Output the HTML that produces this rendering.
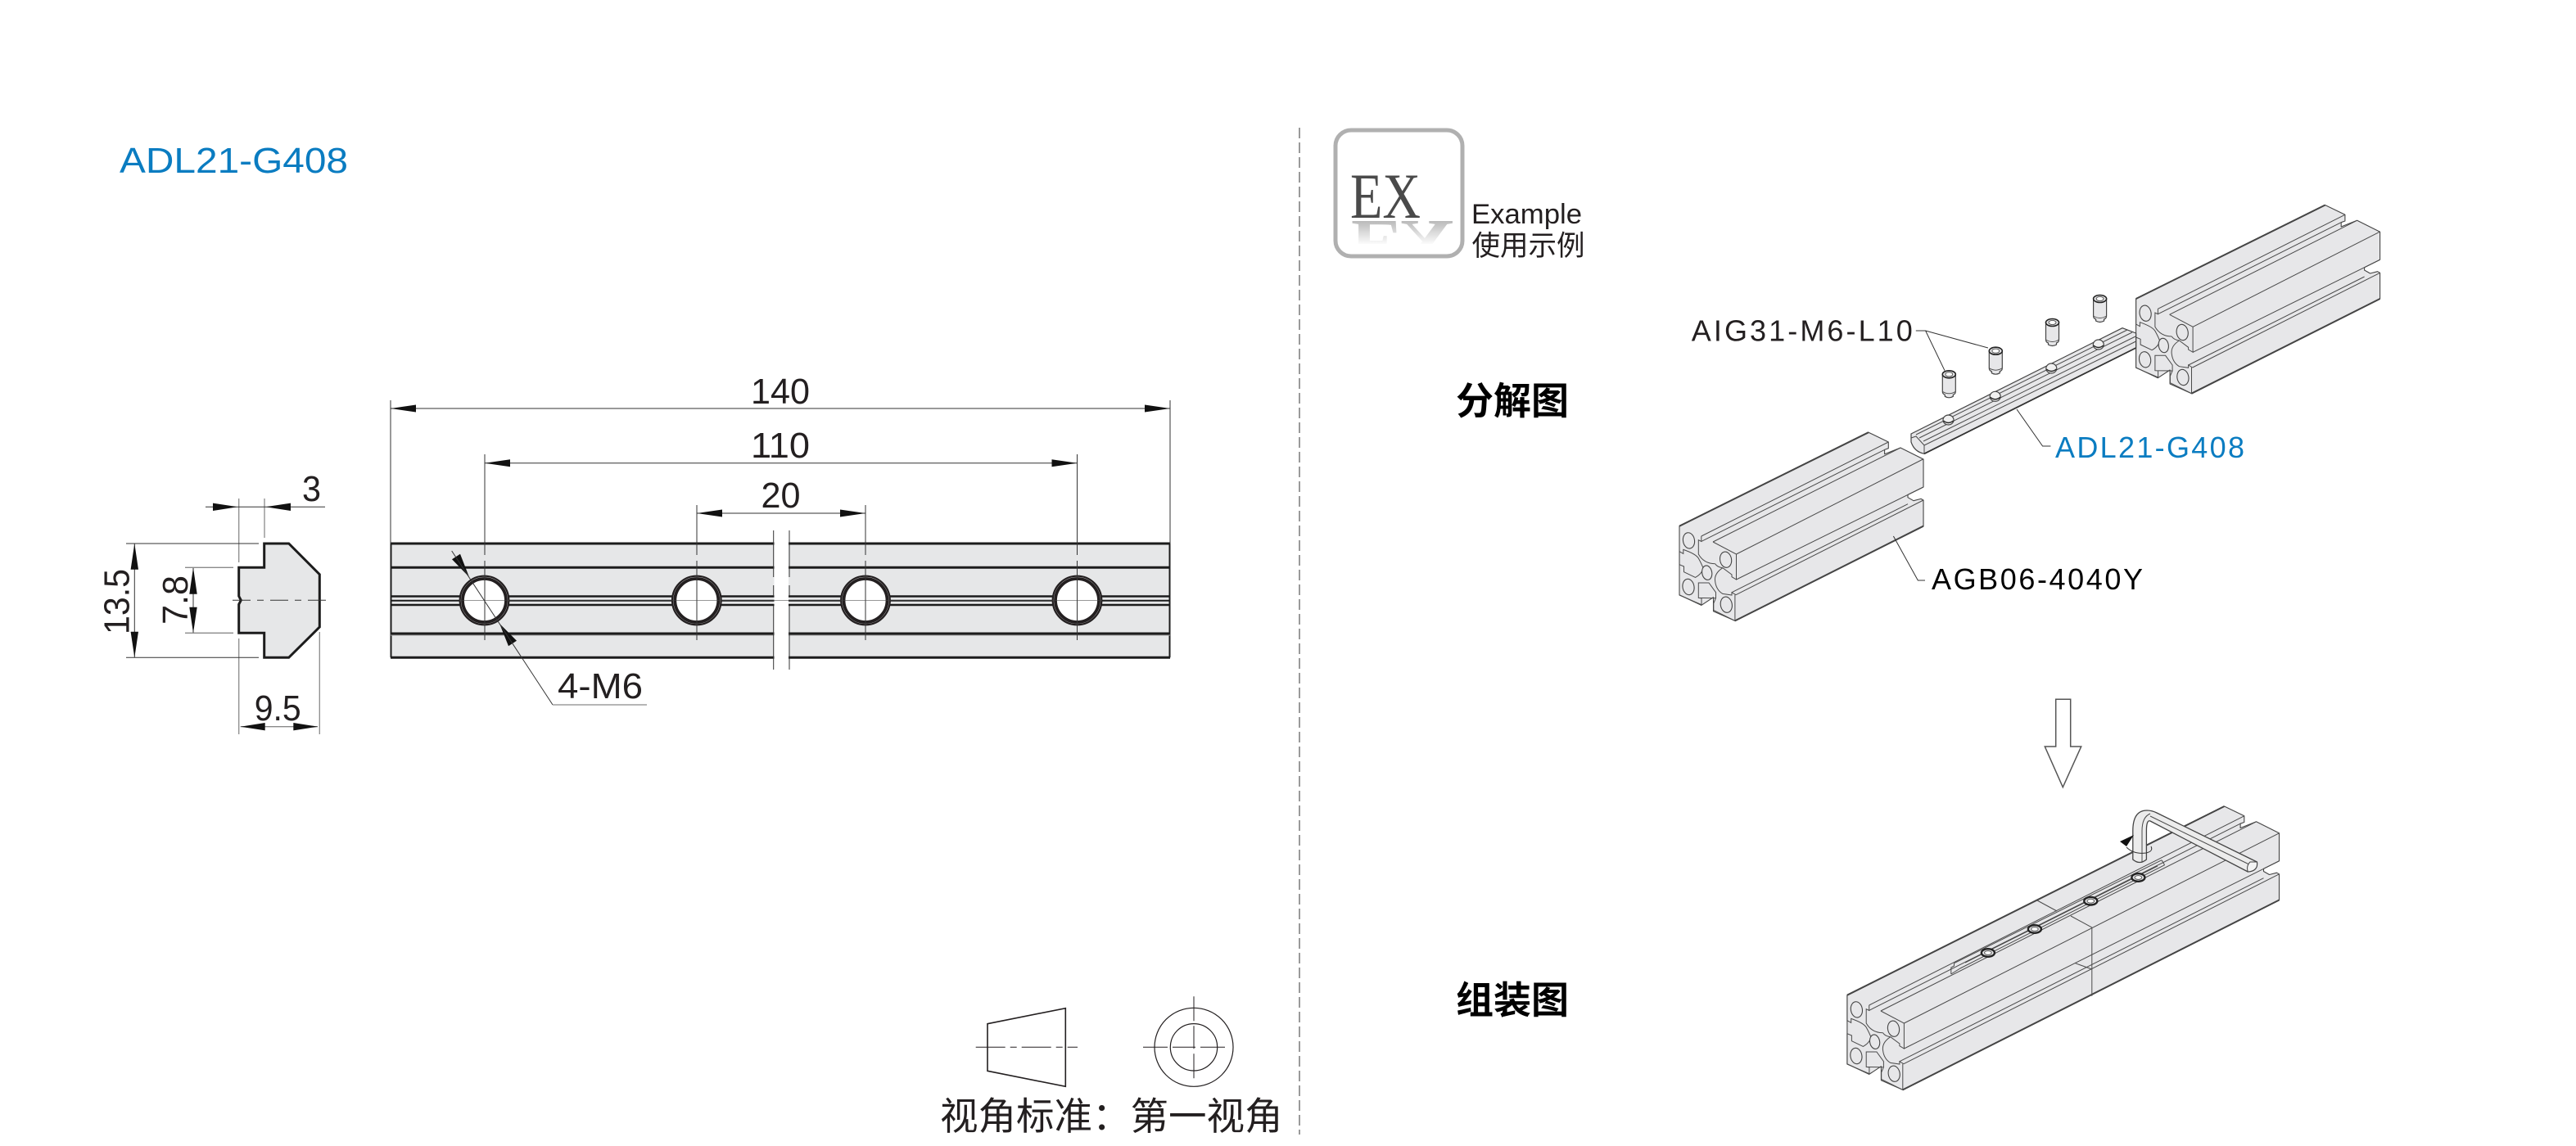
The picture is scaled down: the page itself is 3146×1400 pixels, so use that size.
<!DOCTYPE html>
<html lang="zh-CN"><head><meta charset="utf-8"><title>ADL21-G408</title>
<style>html,body{margin:0;padding:0;background:#fff}svg{display:block}
text{font-family:"Liberation Sans","Noto Sans CJK SC",sans-serif;fill:#231f20}
.cjk{font-family:"Noto Sans CJK SC","Liberation Sans",sans-serif}
.pf{fill:#e7e7e9;stroke:#444;stroke-width:1.1;stroke-linejoin:round}
.pl{fill:none;stroke:#4a4a4a;stroke-width:1}
.thin{fill:none;stroke:#333;stroke-width:1}
.gr{fill:none;stroke:#8a8a8a;stroke-width:1.3}
.ar{fill:#111;stroke:none}
</style></head><body>
<svg width="3146" height="1400" viewBox="0 0 3146 1400" xmlns="http://www.w3.org/2000/svg">
<defs>
<g id="ff">
<path class="pl" d="M0,0V31L4.8,33.7V28.7Q20,34 23.3,39.3Q27,46 28.9,51M26.8,12.3V18.7L23.3,17V34.3Q30,46 43.7,46M41,19.3L69.5,34.3V65.3L64,62V59.3L52.9,51Q46,50 43.7,46M52.9,51Q42,58 43.7,67.7Q45,78 52.9,82.7L64,84.3V81L69,84M0,47L5.5,49.3V56L19.5,62.7Q28,58 28.9,51M0,47V84.3L27,96V88L23.3,87.7V69.3H36L44.5,81V88L41.8,94.3V102.7L67.9,115.7V84M23.3,87.7L44.5,88"/>
<g class="pf">
<ellipse cx="11.5" cy="17.7" rx="7" ry="9.7" transform="rotate(-10 11.5 17.7)"/>
<ellipse cx="56.6" cy="41" rx="7" ry="9.7" transform="rotate(-10 56.6 41)"/>
<ellipse cx="11" cy="74.3" rx="7" ry="9.7" transform="rotate(-10 11 74.3)"/>
<ellipse cx="57.3" cy="96" rx="7" ry="9.7" transform="rotate(-10 57.3 96)"/>
<ellipse cx="33.7" cy="57" rx="6" ry="8.8" transform="rotate(-10 33.7 57)"/>
</g>
</g>
<g id="short">
<polygon class="pf" points="0,0 231,-114.5 255.3,-102.7 255.3,-95 250.6,-93.3 250.6,-88 270,-95.7 298,-81.7 298,-47.7 279,-38.3 279,-35 286,-31 295,-33.3 298,-31.7 298,0 67.9,115.7 41.5,104 41.5,87 26.8,96.7 0,84"/>
<path class="pl" d="M26.8,12.3L255.3,-102.7M26.8,18.7L250.6,-93.3M41,19.3L270,-95.7M69.5,34.3L297.5,-81.7M69.5,65.3L298,-47.7M64,81L279,-27M69,84L298,-31.7"/>
<path d="M0,0L231,-114.5M67.9,115.7L298,0" fill="none" stroke="#444" stroke-width="2"/>
<use href="#ff"/>
</g>
<g id="long">
<polygon class="pf" points="0,0 460.6,-230.7 484.9,-218.9 484.9,-211.2 480.2,-209.5 480.2,-204.2 499.6,-211.9 527.6,-197.9 527.6,-163.9 508.6,-154.5 508.6,-151.2 515.6,-147.2 524.6,-149.5 527.6,-147.9 527.6,-116.2 67.9,115.7 41.5,104 41.5,87 26.8,96.7 0,84"/>
<path class="pl" d="M26.8,12.3L484.9,-218.9M26.8,18.7L480.2,-209.5M41,19.3L499.6,-211.9M69.5,34.3L527.6,-197.9M69.5,65.3L527.6,-163.9M64,81L508.6,-143M69,84L527.6,-147.9"/>
<path d="M0,0L460.6,-230.7M67.9,115.7L527.6,-116.2" fill="none" stroke="#444" stroke-width="2"/>
<use href="#ff"/>
</g>
<g id="pin">
<path d="M-8,0V21Q-8,24 -5,25V27Q0,30 5,27V25Q8,24 8,21V0Z" fill="#e7e7e9" stroke="#444" stroke-width="1.2"/>
<ellipse cx="0" cy="0" rx="8" ry="4.5" fill="#e7e7e9" stroke="#222" stroke-width="1.6"/>
<ellipse cx="0" cy="0" rx="4.5" ry="2.6" fill="#fff" stroke="#555" stroke-width="1"/>
<path d="M-8,21Q0,26 8,21" fill="none" stroke="#555"/>
</g>
<g id="nh">
<ellipse cx="0" cy="0" rx="6.5" ry="6" fill="#f0f0f0" stroke="#444" stroke-width="1.2"/>
<path d="M-6,1Q0,6 6,1" fill="none" stroke="#222" stroke-width="1.4"/>
</g>
<g id="ring">
<ellipse cx="0" cy="0" rx="8" ry="4.8" fill="#e7e7e9" stroke="#222" stroke-width="2.4"/>
<ellipse cx="0" cy="0" rx="4.4" ry="2.4" fill="#fff" stroke="#555" stroke-width="1"/>
</g>
<g id="hole">
<circle r="29.8" fill="#d8d8d8" stroke="#231f20" stroke-width="2.2"/>
<circle r="26.5" fill="#fff" stroke="#231f20" stroke-width="3.8"/>
</g>
<linearGradient id="fade" x1="0" y1="0" x2="0" y2="1"><stop offset="0" stop-color="#fff" stop-opacity="0"/><stop offset="1" stop-color="#fff" stop-opacity=".95"/></linearGradient>
<clipPath id="rc"><rect x="1640" y="268" width="140" height="30"/></clipPath>
</defs>

<!-- title -->
<text x="146" y="211" font-size="44" textLength="279" lengthAdjust="spacingAndGlyphs" style="fill:#0a7cc1">ADL21-G408</text>

<!-- divider -->
<line x1="1587" y1="156" x2="1587" y2="1386" stroke="#9a9a9a" stroke-width="2" stroke-dasharray="13 5"/>

<g transform="translate(1 0)">
<!-- end view -->
<polygon points="321.7,664 351.7,664 389.3,701.7 389.3,766 351.7,803.3 321.7,803.3 321.7,773.3 290.7,773.3 290.7,738.3 293.3,733.3 290.7,728.3 290.7,693.3 321.7,693.3" fill="#e6e7e8" stroke="#1c1c1c" stroke-width="3"/>
<line x1="283" y1="733.3" x2="397" y2="733.3" stroke="#333" stroke-width="1" stroke-dasharray="22 8 8 8"/>
<path class="gr" d="M290.7,609V687M290.7,780V897M322,609V657M389.3,772V897"/>
<path class="thin" d="M250,619.3H396M153,664H315M153,803.3H315M163.3,664V803.3M235,693.3V773.3"/>
<path class="gr" d="M225,693.3H284M225,773.3H284M292.7,887.7H387"/>
<g class="ar">
<polygon points="289.3,619.3 259,614.6 259,624"/><polygon points="323.3,619.3 354,614.6 354,624"/>
<polygon points="163.3,664 158.6,695.7 168,695.7"/><polygon points="163.3,803.3 158.6,771.7 168,771.7"/>
<polygon points="235,693.3 230.3,725.7 239.7,725.7"/><polygon points="235,773.3 230.3,741.7 239.7,741.7"/>
<polygon points="292.7,887.7 322.7,883 322.7,892.4"/><polygon points="387.3,887.7 357.3,883 357.3,892.4"/>
</g>
<text x="368" y="612" font-size="44" textLength="23" lengthAdjust="spacingAndGlyphs">3</text>
<text x="309.7" y="880" font-size="44" textLength="57" lengthAdjust="spacingAndGlyphs">9.5</text>
<text transform="translate(156.7 775) rotate(-90)" font-size="44" textLength="80" lengthAdjust="spacingAndGlyphs">13.5</text>
<text transform="translate(228 763) rotate(-90)" font-size="44" textLength="60" lengthAdjust="spacingAndGlyphs">7.8</text>

<!-- side view -->
<rect x="476" y="664" width="952" height="139.3" fill="#e6e7e8"/>
<g fill="none" stroke="#1c1c1c">
<path stroke-width="3" d="M476,664H1428M476,803.3H1428M476,693.3H1428M476,774H1428"/>
<path stroke-width="2.6" d="M476,728.5H1428M476,739H1428"/>
<path stroke-width="2" d="M476,733.7H1428"/>
<path stroke-width="2" d="M476.5,664V803.3M1427.5,664V803.3"/>
</g>
<path d="M476,776H1428" stroke="#999" stroke-width="1" fill="none"/>
<use href="#hole" x="590.5" y="733.5"/><use href="#hole" x="849.8" y="733.5"/><use href="#hole" x="1056" y="733.5"/><use href="#hole" x="1314.5" y="733.5"/>
<rect x="944.5" y="640" width="17.5" height="175" fill="#fff"/>
<path class="thin" d="M943.7,648V705M943.7,715V728M943.7,740V818M963,648V705M963,715V728M963,740V818"/>
<path class="thin" d="M476,489V664M1428,489V664M591,555V678M591,685V782M1314.5,555V678M1314.5,685V782M850,617V678M850,685V782M1056,617V678M1056,685V782"/>
<path class="thin" d="M476,499H1428M591,565.7H1314.5M850,627H1056"/>
<path d="M560,733.5H1345" stroke="#444" stroke-width="1" fill="none" opacity=".55"/>
<g class="ar">
<polygon points="476,499 507,494.5 507,503.5"/><polygon points="1428,499 1397,494.5 1397,503.5"/>
<polygon points="591,565.7 622,561.2 622,570.2"/><polygon points="1314.5,565.7 1283.5,561.2 1283.5,570.2"/>
<polygon points="850,627 881,622.5 881,631.5"/><polygon points="1056,627 1025,622.5 1025,631.5"/>
<polygon points="572,705 561,676.7 551,683.3"/><polygon points="609,761.7 630,782.7 620,789.3"/>
</g>
<path class="thin" d="M550.7,673L674,861"/>
<path class="gr" d="M674,861H789"/>
<text x="916" y="493" font-size="44" textLength="72" lengthAdjust="spacingAndGlyphs">140</text>
<text x="916" y="559" font-size="44" textLength="72" lengthAdjust="spacingAndGlyphs">110</text>
<text x="928.5" y="620" font-size="44" textLength="48" lengthAdjust="spacingAndGlyphs">20</text>
<text x="680" y="853" font-size="44" textLength="104" lengthAdjust="spacingAndGlyphs">4-M6</text>
</g>

<!-- projection symbol -->
<polygon points="1206,1250.7 1301.3,1231.7 1301.3,1327.3 1206,1308.3" fill="none" stroke="#231f20" stroke-width="1.6"/>
<line x1="1191.7" y1="1279.3" x2="1316" y2="1279.3" stroke="#231f20" stroke-width="1" stroke-dasharray="36 6 8 6"/>
<circle cx="1458" cy="1279.3" r="48" fill="none" stroke="#231f20" stroke-width="1.2"/>
<circle cx="1458" cy="1279.3" r="28.7" fill="none" stroke="#231f20" stroke-width="1.2"/>
<line x1="1396" y1="1279.3" x2="1520" y2="1279.3" stroke="#231f20" stroke-width="1" stroke-dasharray="30 6 28 6 30"/>
<line x1="1458" y1="1217.3" x2="1458" y2="1341.7" stroke="#231f20" stroke-width="1" stroke-dasharray="30 6 28 6 30"/>
<text class="cjk" x="1148" y="1380" font-size="46.5">视角标准：第一视角</text>

<!-- EX badge -->
<rect x="1631" y="159" width="155" height="154" rx="19" fill="#fff" stroke="#b0b0b0" stroke-width="5"/>
<text x="1649" y="266" font-size="78" textLength="86" lengthAdjust="spacingAndGlyphs" style="font-family:'Liberation Serif',serif;fill:#4a4a4a">EX</text>
<g clip-path="url(#rc)"><text transform="translate(0 536) scale(1 -1)" x="1650" y="266" font-size="78" textLength="125" lengthAdjust="spacingAndGlyphs" style="font-family:'Liberation Serif',serif;fill:#b5b5b5;font-weight:700">EX</text></g>
<rect x="1640" y="268" width="140" height="30" fill="url(#fade)"/>
<text x="1797" y="273" font-size="34" textLength="135" lengthAdjust="spacingAndGlyphs">Example</text>
<text class="cjk" x="1797.5" y="312" font-size="34.5">使用示例</text>

<text class="cjk" x="1778" y="506" font-size="46" font-weight="700" style="fill:#000">分解图</text>
<text class="cjk" x="1778" y="1238" font-size="46" font-weight="700" style="fill:#000">组装图</text>

<!-- exploded view -->
<use href="#short" x="2608.6" y="365"/>
<path d="M2334,530L2592,400.7L2608.6,407V425L2350,554.3Q2338,552 2334,540Z" fill="#e7e7e9" stroke="#444" stroke-width="1.2"/>
<path class="pl" d="M2340,531L2598,403M2344,535L2604,406M2349,539L2608,411M2350,544L2608.6,417"/>
<path d="M2350,554.3L2608.6,425" stroke="#333" stroke-width="1.8" fill="none"/>
<path class="pl" d="M2334,535L2340,533L2350,544V554.3"/>
<use href="#nh" x="2562.8" y="421"/><use href="#nh" x="2505.3" y="450"/><use href="#nh" x="2436.7" y="484.3"/><use href="#nh" x="2379.5" y="513"/>
<use href="#short" x="2051" y="642.7"/>
<use href="#pin" x="2564.6" y="365"/><use href="#pin" x="2506.5" y="394"/><use href="#pin" x="2437.3" y="428.7"/><use href="#pin" x="2380.3" y="457.3"/>
<path class="thin" d="M2339.8,404H2351.6L2427.9,425M2351.6,404L2375,452.7M2463,500L2494.6,545H2504.4M2312.4,655L2342.3,709H2351"/>
<text x="2065.8" y="416.7" font-size="36" textLength="270">AIG31-M6-L10</text>
<text x="2510" y="559" font-size="36" textLength="231" style="fill:#0a7cc1">ADL21-G408</text>
<text x="2359" y="720" font-size="36" textLength="258" style="fill:#000">AGB06-4040Y</text>

<!-- arrow -->
<polygon points="2510.7,854.3 2528.7,854.3 2528.7,912 2541.7,912 2519.3,961.7 2497.3,912 2510.7,912" fill="#fff" stroke="#555" stroke-width="1.5"/>

<!-- assembled -->
<use href="#long" x="2255.9" y="1215.7"/>
<path class="pl" d="M2386.5,1176.7L2640,1050.7M2393.9,1183L2643.6,1056.7M2382.8,1190V1182L2386.5,1180V1176.7M2382.8,1190L2393.9,1183M2640,1050.7L2643.6,1056.7M2400,1176L2635,1058"/>
<path class="pl" d="M2488,1100L2512,1113M2529,1119L2554.8,1133V1216.7M2534.5,1176.7L2554.8,1184"/>
<use href="#ring" x="2427.9" y="1164"/><use href="#ring" x="2484.9" y="1135"/><use href="#ring" x="2553.3" y="1100.7"/><use href="#ring" x="2611.4" y="1072"/>
<!-- hex key -->
<path d="M2604.8,1050V1015Q2604.8,990 2622,990Q2628,990 2634,993L2756.4,1053Q2758,1064 2745.3,1065L2626,1003Q2621.4,1001 2621.4,1015V1050Q2613,1057 2604.8,1050Z" fill="#ececec" stroke="#444" stroke-width="1.3" stroke-linejoin="round"/>
<path class="pl" d="M2616,1015V1053M2616,1015Q2616,998 2626,994M2626,997L2750.9,1058"/>
<path d="M2745.3,1065Q2743,1058 2748,1053L2756.4,1053Q2758,1064 2745.3,1065Z" fill="#f4f4f4" stroke="#444"/>
<path class="thin" d="M2597,1035Q2606,1044 2621,1042Q2630,1040 2627,1034"/>
<polygon class="ar" points="2606,1020 2589,1028 2597,1034"/>
</svg>
</body></html>
